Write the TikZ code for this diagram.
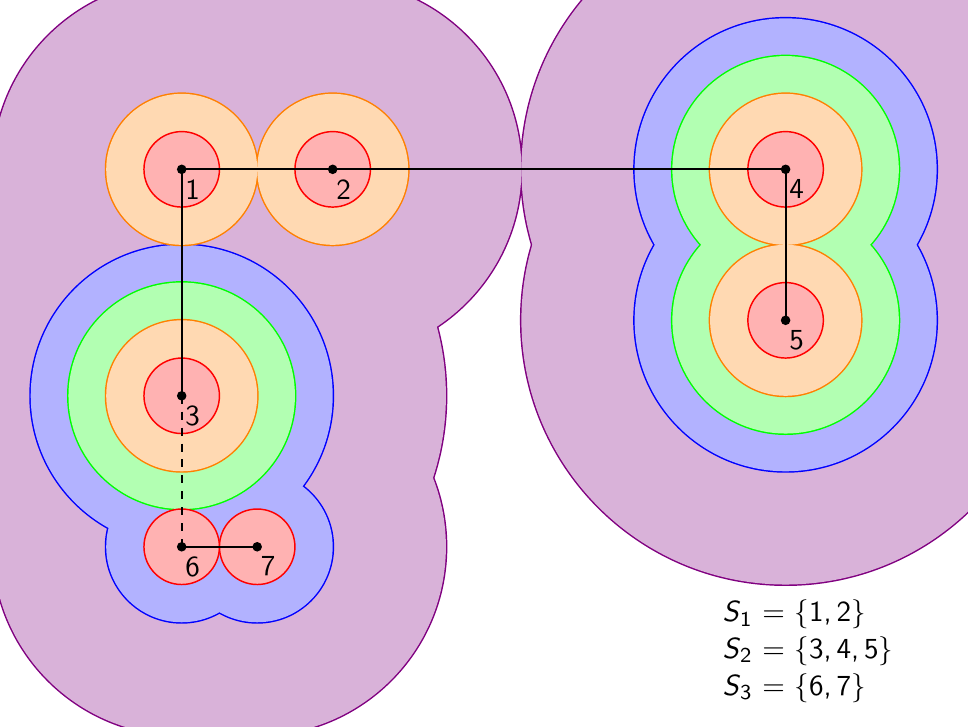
\documentclass[tikz,border=0pt,11pt]{standalone}
\usepackage{xcolor}
\usepackage{tikz}
\usetikzlibrary{positioning}

\begin{document}
\begin{tikzpicture}[
  ring/.style={line width=1.1pt},
  edge/.style={line width=0.7pt, black},
  num/.style={anchor=north west, inner xsep=1.2pt, inner ysep=3.6pt, font=\sffamily},
  eqn/.style={anchor=base west, inner sep=0pt, font=\sffamily}
]
\clip (-2.407,-7.375) rectangle (10.416,2.243);
\useasboundingbox (-2.407,-7.375) rectangle (10.416,2.243);

%% ── points ──────────────────────────────────────────────────
\coordinate (p1) at (0,  0);
\coordinate (p2) at (2,  0);
\coordinate (p3) at (0, -3);
\coordinate (p4) at (8,  0);
\coordinate (p5) at (8, -2);
\coordinate (p6) at (0, -5);
\coordinate (p7) at (1, -5);

%% ── violet ──────────────────────────────────────────────────
\foreach \p/\r in {p1/2.5,p2/2.5,p3/3.5,p4/3.5,p5/3.5,p6/2.5,p7/2.5}
  \draw[ring, violet] (\p) circle (\r);
\foreach \p/\r in {p1/2.5,p2/2.5,p3/3.5,p4/3.5,p5/3.5,p6/2.5,p7/2.5}
  \fill[violet!30] (\p) circle (\r);

%% ── blue ────────────────────────────────────────────────────
\foreach \p/\r in {p3/2,p4/2,p5/2,p6/1,p7/1}
  \draw[ring, blue] (\p) circle (\r);
\foreach \p/\r in {p3/2,p4/2,p5/2,p6/1,p7/1}
  \fill[blue!30] (\p) circle (\r);

%% ── green ───────────────────────────────────────────────────
\foreach \p in {p3,p4,p5}
  \draw[ring, green] (\p) circle (1.5);
\foreach \p in {p3,p4,p5}
  \fill[green!30] (\p) circle (1.5);

%% ── orange ──────────────────────────────────────────────────
\foreach \p in {p1,p2,p3,p4,p5}
  \draw[ring, orange] (\p) circle (1);
\foreach \p in {p1,p2,p3,p4,p5}
  \fill[orange!30] (\p) circle (1);

%% ── red ─────────────────────────────────────────────────────
\foreach \p in {p1,p2,p3,p4,p5,p6,p7}
  \filldraw[red!30, draw=red, line width=0.55pt] (\p) circle (0.5);

%% ── links ───────────────────────────────────────────────────
\draw[edge] (p1) -- (p2) -- (p4);
\draw[edge] (p1) -- (p3);
\draw[edge] (p4) -- (p5);
\draw[edge, dashed] (p3) -- (p6);
\draw[edge] (p6) -- (p7);

\foreach \i in {1,...,7} {
  \fill (p\i) circle (1.8pt);
  \node[num] (l\i) at (p\i) {\i};
}

%% ── sets ────────────────────────────────────────────────────
\node[eqn] (s1) at (7.157, -5.993) {\textit{S}\textsubscript{1} $=$ $\{$1,\,2$\}$};
\node[eqn] (s2) at (7.157, -6.479) {\textit{S}\textsubscript{2} $=$ $\{$3,\,4,\,5$\}$};
\node[eqn] (s3) at (7.157, -6.965) {\textit{S}\textsubscript{3} $=$ $\{$6,\,7$\}$};
\end{tikzpicture}
\end{document}
